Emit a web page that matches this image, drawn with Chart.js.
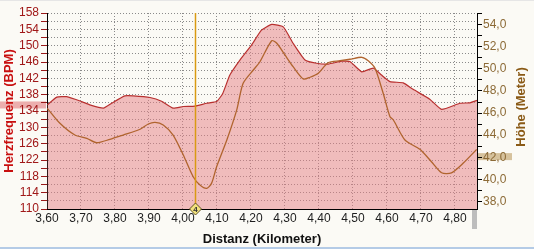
<!DOCTYPE html>
<html>
<head>
<meta charset="utf-8">
<script src="https://cdn.jsdelivr.net/npm/chart.js@4/dist/chart.umd.min.js"></script>
<style>
  html, body { margin: 0; padding: 0; background: #fbfaf5; }
  #wrap { width: 534px; height: 249px; }
  canvas { display: block; }
</style>
</head>
<body>
<div id="wrap"><canvas id="chart" width="534" height="249"></canvas></div>
<script>
// Herzfrequenz (left axis)
const hrKm = [3.601, 3.629, 3.658, 3.702, 3.726, 3.766, 3.790, 3.829, 3.854, 3.903, 3.937, 3.971,
  4.001, 4.035, 4.070, 4.099, 4.117, 4.138, 4.168, 4.202, 4.231, 4.261, 4.295, 4.324, 4.359, 4.393,
  4.427, 4.467, 4.491, 4.526, 4.560, 4.584, 4.609, 4.648, 4.677, 4.726, 4.761, 4.815, 4.844, 4.865];
const hrBpm = [135.5, 137.4, 137.5, 136.3, 135.5, 134.7, 135.9, 137.7, 137.7, 137.3, 136.4, 134.7,
  135.1, 135.2, 135.9, 136.3, 138.3, 142.8, 146.5, 150.2, 153.8, 155.2, 154.6, 150.6, 146.5, 145.7,
  145.5, 146.2, 146.1, 143.6, 144.5, 142.8, 141.2, 140.9, 139.3, 136.9, 134.4, 135.9, 136.0, 136.6];

// Höhe (right axis)
const altKm = [3.601, 3.638, 3.682, 3.717, 3.746, 3.785, 3.824, 3.874, 3.898, 3.918, 3.942, 3.971,
  4.001, 4.030, 4.050, 4.070, 4.084, 4.099, 4.129, 4.158, 4.177, 4.207, 4.226, 4.261, 4.276, 4.300,
  4.324, 4.354, 4.374, 4.398, 4.427, 4.462, 4.491, 4.526, 4.545, 4.565, 4.589, 4.609, 4.619, 4.653,
  4.697, 4.731, 4.761, 4.790, 4.824, 4.864];
const altM = [46.43, 45.07, 44.01, 43.71, 43.31, 43.62, 44.01, 44.53, 45.01, 45.16, 44.92, 44.01,
  42.20, 40.23, 39.48, 39.18, 39.63, 41.14, 43.56, 46.27, 48.69, 49.90, 50.62, 52.55, 52.32, 51.26,
  50.20, 49.08, 49.24, 49.60, 50.56, 50.74, 50.87, 51.05, 50.74, 50.05, 47.79, 45.67, 45.37, 43.56,
  42.71, 41.59, 40.59, 40.59, 41.45, 42.71];

const xTicks = [3.6, 3.7, 3.8, 3.9, 4.0, 4.1, 4.2, 4.3, 4.4, 4.5, 4.6, 4.7, 4.8];
const hrTicks = [110, 112, 114, 116, 118, 120, 122, 124, 126, 128, 130, 132, 134, 136, 138, 140,
  142, 144, 146, 148, 150, 152, 154, 156, 158];
const altTicks = [38, 39, 40, 41, 42, 43, 44, 45, 46, 47, 48, 49, 50, 51, 52, 53, 54, 55];

const cursorKm = 4.035;
const cursorLabel = '4';
const hrMarker = 135.6;
const altMarker = 42.1;

const FONT = "'Liberation Sans', Arial, sans-serif";

const toPoints = (xs, ys) => xs.map((x, i) => ({ x, y: ys[i] }));
const commaFmt = (v, digits) => v.toFixed(digits).replace('.', ',');

const decor = {
  id: 'decor',
  beforeDraw(chart) {
    const { ctx, chartArea: a, scales } = chart;
    ctx.save();
    ctx.fillStyle = '#fbfaf5';
    ctx.fillRect(0, 0, chart.width, chart.height);
    ctx.fillStyle = '#e6e6e6';
    ctx.fillRect(0, 0, chart.width, 1);
    ctx.fillStyle = '#b4cbe6';
    ctx.fillRect(0, chart.height - 2, chart.width, 2);

    // value markers on the axes
    const yh = scales.yHr.getPixelForValue(hrMarker);
    ctx.fillStyle = 'rgba(233, 160, 160, 0.85)';
    ctx.fillRect(0, yh - 3, a.left - 1, 7);
    const ya = scales.yAlt.getPixelForValue(altMarker);
    ctx.fillStyle = 'rgba(205, 180, 135, 0.8)';
    ctx.fillRect(a.right + 1, ya - 3, 34, 7);

    // small grey bar below the right end
    ctx.fillStyle = '#bdbdbd';
    ctx.fillRect(a.right - 5, a.bottom + 1, 5, 19);
    ctx.restore();
  },
  afterDraw(chart) {
    const { ctx, chartArea: a, scales } = chart;
    const x = Math.round(scales.x.getPixelForValue(cursorKm)) + 0.5;
    ctx.save();
    ctx.strokeStyle = '#d99a12';
    ctx.lineWidth = 1.5;
    ctx.beginPath();
    ctx.moveTo(x, a.top);
    ctx.lineTo(x, a.bottom - 5);
    ctx.stroke();

    const cy = a.bottom;
    ctx.beginPath();
    ctx.moveTo(x, cy - 6);
    ctx.lineTo(x + 6, cy);
    ctx.lineTo(x, cy + 6);
    ctx.lineTo(x - 6, cy);
    ctx.closePath();
    ctx.fillStyle = '#f2e27c';
    ctx.fill();
    ctx.strokeStyle = '#5f5224';
    ctx.lineWidth = 1;
    ctx.stroke();
    ctx.fillStyle = '#333';
    ctx.font = 'bold 8px ' + FONT;
    ctx.textAlign = 'center';
    ctx.textBaseline = 'middle';
    ctx.fillText(cursorLabel, x, cy + 0.5);

    // right axis title, reading bottom to top
    ctx.translate(521, (a.top + a.bottom) / 2 - 4);
    ctx.rotate(-Math.PI / 2);
    ctx.font = 'bold 13px ' + FONT;
    ctx.fillStyle = '#8a5a16';
    ctx.fillText('Höhe (Meter)', 0, 0);
    ctx.restore();
  }
};

new Chart(document.getElementById('chart'), {
  type: 'line',
  data: {
    datasets: [
      {
        label: 'Höhe',
        data: toPoints(altKm, altM),
        yAxisID: 'yAlt',
        borderColor: '#b0642e',
        borderWidth: 1.3,
        pointRadius: 0,
        fill: false,
        tension: 0.25
      },
      {
        label: 'Herzfrequenz',
        data: toPoints(hrKm, hrBpm),
        yAxisID: 'yHr',
        borderColor: '#b8302f',
        borderWidth: 1.2,
        backgroundColor: 'rgba(229, 126, 131, 0.5)',
        pointRadius: 0,
        fill: 'start',
        tension: 0.15
      }
    ]
  },
  options: {
    responsive: false,
    animation: false,
    events: [],
    layout: { padding: { top: 13, left: 0, right: 0, bottom: 0 } },
    plugins: { legend: { display: false }, tooltip: { enabled: false } },
    scales: {
      x: {
        type: 'linear',
        min: 3.6,
        max: 4.865,
        afterBuildTicks: (s) => { s.ticks = xTicks.map(v => ({ value: v })); },
        afterFit: (s) => { s.height = 40; },
        ticks: {
          autoSkip: false,
          maxRotation: 0,
          padding: 2,
          color: '#1e1e1e',
          font: { family: FONT, size: 12 },
          callback: (v) => commaFmt(v, 2)
        },
        grid: { color: '#8a8a8a', drawTicks: false },
        border: { color: '#000', width: 1, dash: [1, 2] },
        title: {
          display: true,
          text: 'Distanz (Kilometer)',
          color: '#111',
          font: { family: FONT, size: 13, weight: 'bold' },
          padding: { top: 0, bottom: 2 }
        }
      },
      yHr: {
        type: 'linear',
        position: 'left',
        min: 110,
        max: 158,
        afterBuildTicks: (s) => { s.ticks = hrTicks.map(v => ({ value: v })); },
        afterFit: (s) => { s.width = 47; },
        ticks: {
          autoSkip: false,
          padding: 2,
          color: '#a01818',
          font: { family: FONT, size: 12 },
          callback: (v) => ((v - 110) % 4 === 0 ? String(v) : '')
        },
        grid: { color: '#8a8a8a', tickColor: '#9a1a1a', tickLength: 6, tickBorderDash: [] },
        border: { color: '#000', width: 1, dash: [1, 2] },
        title: {
          display: true,
          text: 'Herzfrequenz (BPM)',
          color: '#c80f0f',
          font: { family: FONT, size: 13, weight: 'bold' },
          padding: { top: 2, bottom: 0 }
        }
      },
      yAlt: {
        type: 'linear',
        position: 'right',
        min: 37.31,
        max: 55.06,
        afterBuildTicks: (s) => { s.ticks = altTicks.map(v => ({ value: v })); },
        afterFit: (s) => { s.width = 57; },
        ticks: {
          autoSkip: false,
          padding: 1,
          color: '#8c6a36',
          font: { family: FONT, size: 12 },
          callback: (v) => (v % 2 === 0 ? commaFmt(v, 1) : '')
        },
        grid: { drawOnChartArea: false, tickColor: '#000', tickLength: 5 },
        border: { color: '#000', width: 1 },
        title: { display: false }
      }
    }
  },
  plugins: [decor]
});
</script>
</body>
</html>
